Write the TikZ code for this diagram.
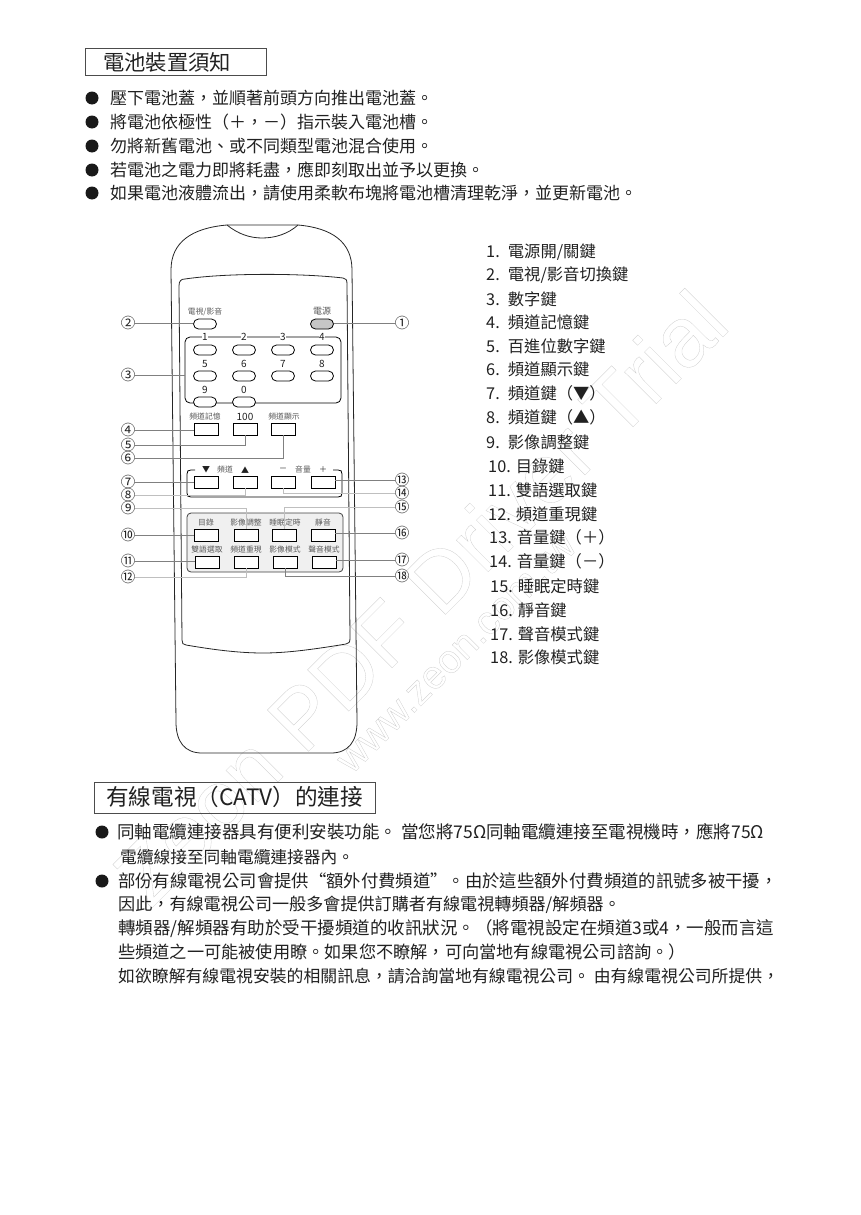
\documentclass[tikz,border=0pt]{standalone}
\usepackage{fontspec}
\setmainfont{Liberation Sans}
\newfontfamily\cjk{Noto Sans CJK TC}
\usepackage{tikz}
\definecolor{ink}{gray}{0.13}
\definecolor{soft}{gray}{0.35}
\tikzset{
	boxtitle/.style={shape=rectangle,draw=black!70,semithick,inner sep=0},
	para/.style={anchor=west,inner sep=0,text=ink,font=\cjk\fontsize{#1}{17}\selectfont},
	para/.default=17,
	listitem/.style={anchor=west,inner sep=0,text=ink,font=\cjk\fontsize{16.3}{16}\selectfont},
	dot/.style={shape=circle,fill=black!90,inner sep=0,minimum size=13pt},
	pill/.style={shape=rectangle,rounded corners=5pt,draw=black,thick,fill=white,minimum width=23pt,minimum height=10pt,inner sep=0},
	key/.style={shape=rectangle,draw=black,thick,fill=white,minimum width=24pt,minimum height=12pt,inner sep=0},
	keytext/.style={inner sep=0,text=soft,font=\cjk\fontsize{7.8}{8}\selectfont},
	keysign/.style={inner sep=0,text=ink,font=\cjk\fontsize{8}{8}\selectfont},
	numtext/.style={inner sep=.6pt,text=ink,fill=white,font=\cjk\fontsize{10}{10}\selectfont},
	callout/.style={inner sep=0,text=ink,font=\cjk\fontsize{14.5}{15}\selectfont},
	leader/.style={-,gray},
	fainter/.style={-,black!25},
	mark text/.style={anchor=base west,inner sep=0,rotate=45},
}
\begin{document}
\begin{tikzpicture}[x=1pt,y=-1pt]
	\useasboundingbox (0,0) rectangle (861,1215);

	\node[mark text,font=\fontsize{85}{85}\selectfont] (wmark) at (150,910) {\special{pdf:code 1 Tr 0.3 w 0.8 G}Zeon PDF Driver Trial\special{pdf:code 0 Tr}};
	\node[mark text,font=\fontsize{40}{40}\selectfont] (wsite) at (352,775) {\special{pdf:code 1 Tr 0.3 w 0.8 G}www.zeon.com.tw\special{pdf:code 0 Tr}};

	\node[boxtitle,minimum width=181pt,minimum height=27pt] (battitle) at (175.5,61.5) {};
	\node[anchor=west,inner sep=0,text=ink,font=\cjk\fontsize{21.3}{21}\selectfont] (battext) at (103,62) {電池裝置須知};

	\node[dot] (d1) at (92,98) {};
	\node[dot] (d2) at (92,122) {};
	\node[dot] (d3) at (92,146) {};
	\node[dot] (d4) at (92,170) {};
	\node[dot] (d5) at (92,193) {};
	\node[para] (p1) at (110,98) {壓下電池蓋，並順著前頭方向推出電池蓋。};
	\node[para] (p2) at (110,122) {將電池依極性（＋，－）指示裝入電池槽。};
	\node[para] (p3) at (110,146) {勿將新舊電池、或不同類型電池混合使用。};
	\node[para] (p4) at (110,170) {若電池之電力即將耗盡，應即刻取出並予以更換。};
	\node[para] (p5) at (110,193) {如果電池液體流出，請使用柔軟布塊將電池槽清理乾淨，並更新電池。};

	\draw [thick,black!85] (171,270) .. controls (171,242) and (192,228) .. (227,225) -- (298,225) .. controls (332,228) and (352,242) .. (352,270) -- (357,722) .. controls (357,742) and (348,753) .. (331,753) -- (202,753) .. controls (185,753) and (176,742) .. (176,722) -- cycle;
	\draw [thick,black!85] (227,225) .. controls (238,234) and (250,238) .. (262,238) .. controls (275,238) and (288,234) .. (298,225);
	\draw [thick,black!85] (179,286) .. controls (179,281) and (181,279) .. (185,279) .. controls (225,273) and (300,273) .. (343,278) .. controls (346,278) and (347,280) .. (347,284) -- (350,638) .. controls (350,642) and (349,644) .. (346,644) .. controls (310,650) and (285,653) .. (263,653) .. controls (240,653) and (215,650) .. (186,645) .. controls (183,645) and (182,643) .. (182,640) -- cycle;

	\node[keytext] (ltvav) at (205,312) {電視/影音};
	\node[keytext,font=\cjk\fontsize{9}{9}\selectfont] (lpower) at (322,311) {電源};
	\node[pill] (tvav) at (205,324) {};
	\node[pill,fill=gray!45] (power) at (322,324) {};

	\node[shape=rectangle,rounded corners=5pt,draw=black,thick,minimum width=156pt,minimum height=66pt] (numbox) at (263,370) {};
	\node[numtext] (t1) at (205,337) {1};
	\node[numtext] (t2) at (244,337) {2};
	\node[numtext] (t3) at (283,337) {3};
	\node[numtext] (t4) at (322,337) {4};
	\node[numtext] (t5) at (205,364) {5};
	\node[numtext] (t6) at (244,364) {6};
	\node[numtext] (t7) at (283,364) {7};
	\node[numtext] (t8) at (322,364) {8};
	\node[numtext] (t9) at (205,390) {9};
	\node[numtext] (t0) at (244,390) {0};
	\node[pill] (n1) at (205,350) {};
	\node[pill] (n2) at (244,350) {};
	\node[pill] (n3) at (283,350) {};
	\node[pill] (n4) at (322,350) {};
	\node[pill] (n5) at (205,376) {};
	\node[pill] (n6) at (244,376) {};
	\node[pill] (n7) at (283,376) {};
	\node[pill] (n8) at (322,376) {};
	\node[pill] (n9) at (205,402) {};
	\node[pill] (n0) at (244,402) {};

	\node[keytext] (lmem) at (205,417) {頻道記憶};
	\node[numtext,fill=none] (lhun) at (245,417) {100};
	\node[keytext] (lshow) at (284,417) {頻道顯示};
	\node[key] (kmem) at (206,429) {};
	\node[key] (khun) at (245,429) {};
	\node[key] (kshow) at (283,429) {};

	\draw [thick,black] (195,470) -- (191,470) .. controls (188,470) and (187,471) .. (187,474) -- (187,493) .. controls (187,496) and (188,497) .. (191,497) -- (338,497) .. controls (341,497) and (342,496) .. (342,493) -- (342,474) .. controls (342,471) and (341,470) .. (338,470) -- (333,470);
	\node[keysign] (ldown) at (206,470) {▼};
	\node[keytext] (lchan) at (225,470) {頻道};
	\node[keysign] (lup) at (245,470) {▲};
	\node[keysign] (lminus) at (283,470) {－};
	\node[keytext] (lvol) at (303,470) {音量};
	\node[keysign] (lplus) at (323,470) {＋};
	\node[key] (kdown) at (206,482) {};
	\node[key] (kup) at (245,482) {};
	\node[key] (kminus) at (283,482) {};
	\node[key] (kplus) at (323,482) {};

	\node[shape=rectangle,rounded corners=4pt,draw=black!75,thick,fill=gray!12,minimum width=156pt,minimum height=59pt] (panel) at (265,542.5) {};
	\node[keytext] (lmenu) at (206,523) {目錄};
	\node[keytext] (lpic) at (246,523) {影像調整};
	\node[keytext] (lsleep) at (285,523) {睡眠定時};
	\node[keytext] (lmute) at (323,523) {靜音};
	\node[key] (kmenu) at (206,535) {};
	\node[key] (kpic) at (246,535) {};
	\node[key] (ksleep) at (284,535) {};
	\node[key] (kmute) at (323,535) {};
	\node[keytext] (ldual) at (207,550) {雙語選取};
	\node[keytext] (lrecall) at (246,550) {頻道重現};
	\node[keytext] (lpmode) at (285,550) {影像模式};
	\node[keytext] (lsmode) at (324,550) {聲音模式};
	\node[key] (kdual) at (207,562) {};
	\node[key] (krecall) at (246,562) {};
	\node[key] (kpmode) at (285,562) {};
	\node[key] (ksmode) at (324,562) {};

	\node[callout] (c2) at (128,323) {②};
	\node[callout] (c3) at (128,375) {③};
	\node[callout] (c4) at (128,430) {④};
	\node[callout] (c5) at (128,445) {⑤};
	\node[callout] (c6) at (128,458) {⑥};
	\node[callout] (c7) at (128,482) {⑦};
	\node[callout] (c8) at (128,495) {⑧};
	\node[callout] (c9) at (128,508) {⑨};
	\node[callout] (c10) at (128,535) {⑩};
	\node[callout] (c11) at (128,561) {⑪};
	\node[callout] (c12) at (128,577) {⑫};
	\node[callout] (c1) at (402,323) {①};
	\node[callout] (c13) at (402,480) {⑬};
	\node[callout] (c14) at (402,493) {⑭};
	\node[callout] (c15) at (402,507) {⑮};
	\node[callout] (c16) at (402,533) {⑯};
	\node[callout] (c17) at (402,560) {⑰};
	\node[callout] (c18) at (402,576) {⑱};

	\path [leader] (c2) edge (c2 -| tvav.west);
	\path [leader] (c3) edge (c3 -| numbox.west);
	\path [leader] (c4) edge (c4 -| kmem.west);
	\draw [leader] (c5) -| (khun);
	\draw [leader] (c6) -| (kshow);
	\path [leader] (c7) edge (c7 -| kdown.west);
	\draw [fainter] (c8) -| (kup);
	\draw [fainter] (c9) -| (kpic);
	\path [leader] (c10) edge (c10 -| kmenu.west);
	\path [leader] (c11) edge (c11 -| kdual.west);
	\draw [fainter] (c12) -| (krecall);
	\path [leader] (c1) edge (c1 -| power.east);
	\path [leader] (c13) edge (c13 -| kplus.east);
	\draw [fainter] (c14) -| (kminus);
	\draw [fainter] (c15) -| (ksleep);
	\path [leader] (c16) edge (c16 -| kmute.east);
	\path [leader] (c17) edge (c17 -| ksmode.east);
	\draw [leader] (c18) -| (kpmode);

	\node[listitem] (i1) at (486,252) {1.\enskip 電源開/關鍵};
	\node[listitem] (i2) at (486,275) {2.\enskip 電視/影音切換鍵};
	\node[listitem] (i3) at (486,299) {3.\enskip 數字鍵};
	\node[listitem] (i4) at (486,322) {4.\enskip 頻道記憶鍵};
	\node[listitem] (i5) at (486,346) {5.\enskip 百進位數字鍵};
	\node[listitem] (i6) at (486,369) {6.\enskip 頻道顯示鍵};
	\node[listitem] (i7) at (486,393) {7.\enskip 頻道鍵（▼）};
	\node[listitem] (i8) at (486,417) {8.\enskip 頻道鍵（▲）};
	\node[listitem] (i9) at (486,442) {9.\enskip 影像調整鍵};
	\node[listitem] (i10) at (488,466) {10.\hspace{5pt}目錄鍵};
	\node[listitem] (i11) at (488,490) {11.\hspace{5pt}雙語選取鍵};
	\node[listitem] (i12) at (488,514) {12.\hspace{5pt}頻道重現鍵};
	\node[listitem] (i13) at (489,537) {13.\hspace{5pt}音量鍵（＋）};
	\node[listitem] (i14) at (489,561) {14.\hspace{5pt}音量鍵（－）};
	\node[listitem] (i15) at (490,586) {15.\hspace{5pt}睡眠定時鍵};
	\node[listitem] (i16) at (490,610) {16.\hspace{5pt}靜音鍵};
	\node[listitem] (i17) at (490,634) {17.\hspace{5pt}聲音模式鍵};
	\node[listitem] (i18) at (490,657) {18.\hspace{5pt}影像模式鍵};

	\node[boxtitle,minimum width=281pt,minimum height=31pt] (catvtitle) at (234.5,797.5) {};
	\node[anchor=west,inner sep=0,text=ink,font=\cjk\fontsize{22.6}{22}\selectfont] (catvtext) at (106,797) {有線電視（CATV）的連接};

	\node[dot] (d6) at (102,832) {};
	\node[dot] (d7) at (102,881) {};
	\node[para=17.5] (q1) at (117,832) {同軸電纜連接器具有便利安裝功能。 當您將75Ω同軸電纜連接至電視機時，應將75Ω};
	\node[para=16.7] (q2) at (120,857) {電纜線接至同軸電纜連接器內。};
	\node[para=17.35] (q3) at (118,881) {部份有線電視公司會提供“額外付費頻道”。由於這些額外付費頻道的訊號多被干擾，};
	\node[para=17.1] (q4) at (118,905) {因此，有線電視公司一般多會提供訂購者有線電視轉頻器/解頻器。};
	\node[para=17.5] (q5) at (118,929) {轉頻器/解頻器有助於受干擾頻道的收訊狀況。（將電視設定在頻道3或4，一般而言這};
	\node[para=17.2] (q6) at (118,952) {些頻道之一可能被使用瞭。如果您不瞭解，可向當地有線電視公司諮詢。）};
	\node[para=16.85] (q7) at (118,976) {如欲瞭解有線電視安裝的相關訊息，請洽詢當地有線電視公司。 由有線電視公司所提供，};
\end{tikzpicture}
\end{document}
